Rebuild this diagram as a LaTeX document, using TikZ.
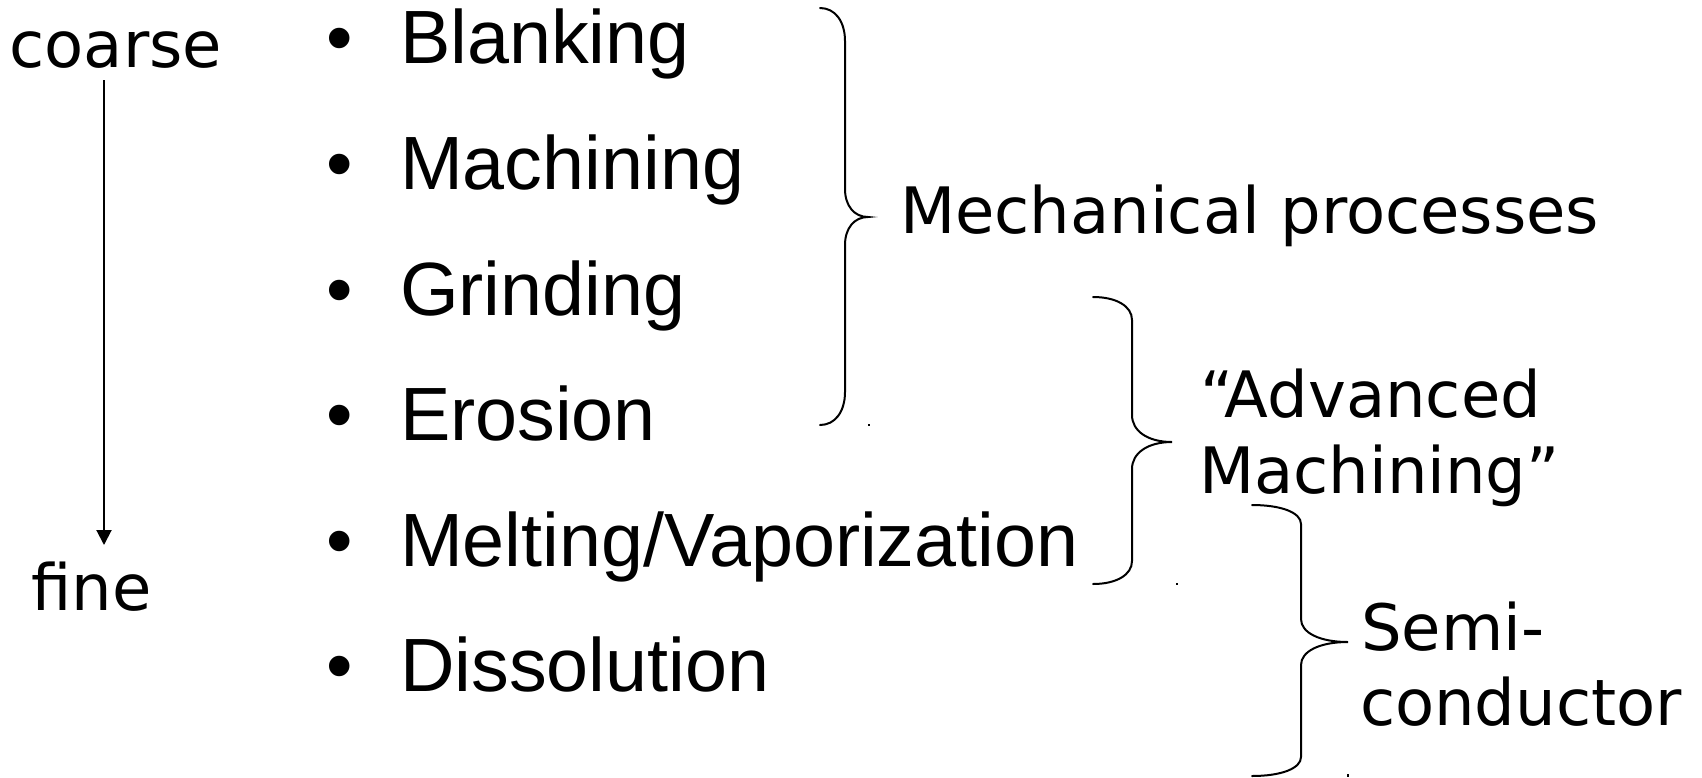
\documentclass[tikz,border=0pt]{standalone}
\usepackage{fontspec}
\setmainfont{Liberation Sans}
\newfontfamily\dejavu{DejaVu Sans}
\usetikzlibrary{arrows.meta}

% curly brace: end x, spine x, tip x, top y, tip y, bottom y, end curl, tip curl
\newcommand\curlybrace[8]{%
  \draw[bracestyle] (#1,#4)
    .. controls ({#1+0.6*(#2-#1)},#4) and (#2,{#4+0.4*#7}) .. (#2,{#4+#7})
    -- (#2,{#5-#8})
    .. controls (#2,{#5-0.4*#8}) and ({#2+0.4*(#3-#2)},#5) .. (#3,#5)
    .. controls ({#2+0.4*(#3-#2)},#5) and (#2,{#5+0.4*#8}) .. (#2,{#5+#8})
    -- (#2,{#6-#7})
    .. controls (#2,{#6-0.4*#7}) and ({#1+0.6*(#2-#1)},#6) .. (#1,#6);}

\tikzset{
  x=1pt, y=-1pt,
  itemtext/.style={anchor=base west, inner sep=0pt, outer sep=0pt,
    font=\fontsize{75.5}{80}\selectfont},
  labeltext/.style={anchor=base west, inner sep=0pt, outer sep=0pt,
    font=\dejavu\fontsize{64}{76}\selectfont},
  bracestyle/.style={line width=2pt, line cap=round},
  scalearrow/.style={line width=2pt, -{Triangle[length=15pt,width=15pt]}},
  speck/.style={fill=black}
}

\begin{document}
\begin{tikzpicture}
\useasboundingbox (0,0) rectangle (1702,777);

% coarse-to-fine scale
\node[labeltext] (coarse) at (9.5,67) {coarse};
\node[labeltext] (fine) at (31.5,610) {fine};
\coordinate (arrtop) at (104,80);
\coordinate (arrtip) at (104,545);
\draw[scalearrow] (arrtop) -- (arrtip);

% bulleted list of processes
\foreach \y/\name/\txt in {63/blank/{Blanking}, 189/mach/{Machining}, 315/grind/{Grinding},
    440/eros/{Erosion}, 566/melt/{Melting/Vaporization}, 691/diss/{Dissolution}} {
  \node[itemtext] (b-\name) at (326,\y) {•};
  \node[itemtext] (\name) at (400,\y) {\txt};
}

% group braces
\curlybrace{820}{845}{868}{8}{217}{425}{33}{28}
\curlybrace{1093}{1132}{1172}{297}{442}{584}{23}{27}
\curlybrace{1252}{1301}{1348}{505}{642}{776}{19}{23}

% small specks beside the brace ends
\fill[speck] (868,424) rectangle (870,426);
\fill[speck] (1176,583) rectangle (1178,585);
\fill[speck] (1347,774) rectangle (1349,777);

% group labels
\node[labeltext] (mech) at (900,233) {Mechanical processes};
\node[labeltext] (adv1) at (1200,417) {“Advanced};
\node[labeltext] (adv2) at (1199,493) {Machining”};
\node[labeltext] (semi1) at (1361,650) {Semi-};
\node[labeltext] (semi2) at (1360,725) {conductor};
\end{tikzpicture}
\end{document}
